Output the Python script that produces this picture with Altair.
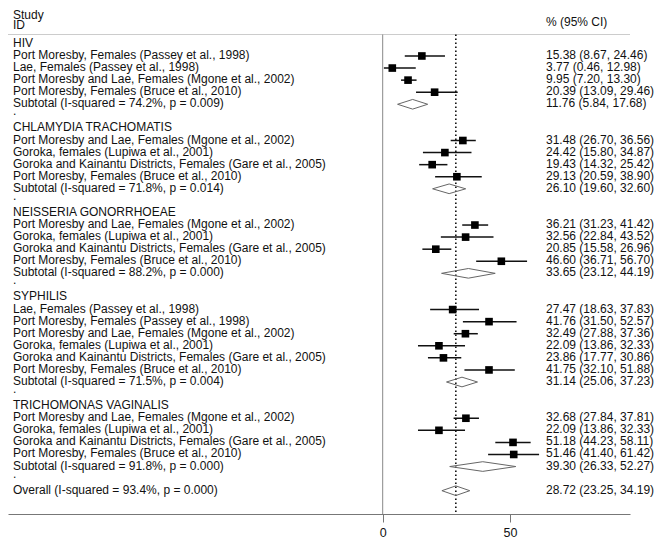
import altair as alt
import pandas as pd

# ---------------- data ----------------
group_names = ["HIV", "CHLAMYDIA TRACHOMATIS", "NEISSERIA GONORRHOEAE",
               "SYPHILIS", "TRICHOMONAS VAGINALIS"]

hiv_labels = ["Port Moresby, Females (Passey et al., 1998)",
              "Lae, Females (Passey et al., 1998)",
              "Port Moresby and Lae, Females (Mgone et al., 2002)",
              "Port Moresby, Females (Bruce et al., 2010)"]
hiv_est = [15.38, 3.77, 9.95, 20.39]
hiv_lo = [8.67, 0.46, 7.20, 13.09]
hiv_hi = [24.46, 12.98, 13.30, 29.46]

ct_labels = ["Port Moresby and Lae, Females (Mgone et al., 2002)",
             "Goroka, females  (Lupiwa et al., 2001)",
             "Goroka and Kainantu Districts, Females (Gare et al., 2005)",
             "Port Moresby, Females (Bruce et al., 2010)"]
ct_est = [31.48, 24.42, 19.43, 29.13]
ct_lo = [26.70, 15.80, 14.32, 20.59]
ct_hi = [36.56, 34.87, 25.42, 38.90]

ng_labels = ["Port Moresby and Lae, Females (Mgone et al., 2002)",
             "Goroka, females  (Lupiwa et al., 2001)",
             "Goroka and Kainantu Districts, Females (Gare et al., 2005)",
             "Port Moresby, Females (Bruce et al., 2010)"]
ng_est = [36.21, 32.56, 20.85, 46.60]
ng_lo = [31.23, 22.84, 15.58, 36.71]
ng_hi = [41.42, 43.52, 26.96, 56.70]

sy_labels = ["Lae, Females (Passey et al., 1998)",
             "Port Moresby, Females (Passey et al., 1998)",
             "Port Moresby and Lae, Females (Mgone et al., 2002)",
             "Goroka, females  (Lupiwa et al., 2001)",
             "Goroka and Kainantu Districts, Females (Gare et al., 2005)",
             "Port Moresby, Females (Bruce et al., 2010)"]
sy_est = [27.47, 41.76, 32.49, 22.09, 23.86, 41.75]
sy_lo = [18.63, 31.50, 27.88, 13.86, 17.77, 32.10]
sy_hi = [37.83, 52.57, 37.36, 32.33, 30.86, 51.88]

tv_labels = ["Port Moresby and Lae, Females (Mgone et al., 2002)",
             "Goroka, females  (Lupiwa et al., 2001)",
             "Goroka and Kainantu Districts, Females (Gare et al., 2005)",
             "Port Moresby, Females (Bruce et al., 2010)"]
tv_est = [32.68, 22.09, 51.18, 51.46]
tv_lo = [27.84, 13.86, 44.23, 41.40]
tv_hi = [37.81, 32.33, 58.11, 61.42]

subtotal_labels = ["Subtotal  (I-squared = 74.2%, p = 0.009)",
                   "Subtotal  (I-squared = 71.8%, p = 0.014)",
                   "Subtotal  (I-squared = 88.2%, p = 0.000)",
                   "Subtotal  (I-squared = 71.5%, p = 0.004)",
                   "Subtotal  (I-squared = 91.8%, p = 0.000)"]
subtotal_est = [11.76, 26.10, 33.65, 31.14, 39.30]
subtotal_lo = [5.84, 19.60, 23.12, 25.06, 26.33]
subtotal_hi = [17.68, 32.60, 44.19, 37.23, 52.27]

overall_label = "Overall  (I-squared = 93.4%, p = 0.000)"
overall_est, overall_lo, overall_hi = 28.72, 23.25, 34.19

axis_ticks = [0, 50]

# ---------------- build table ----------------
studies = [
    (hiv_labels, hiv_est, hiv_lo, hiv_hi),
    (ct_labels, ct_est, ct_lo, ct_hi),
    (ng_labels, ng_est, ng_lo, ng_hi),
    (sy_labels, sy_est, sy_lo, sy_hi),
    (tv_labels, tv_est, tv_lo, tv_hi),
]

recs = []
r = 0
for g, (labs, es, los, his) in enumerate(studies):
    recs.append(dict(row=r, label=group_names[g], kind="header"))
    r += 1
    for lab, e, lo, hi in zip(labs, es, los, his):
        recs.append(dict(row=r, label=lab, kind="study", est=e, lo=lo, hi=hi))
        r += 1
    recs.append(dict(row=r, label=subtotal_labels[g], kind="pooled",
                     est=subtotal_est[g], lo=subtotal_lo[g], hi=subtotal_hi[g]))
    r += 1
    recs.append(dict(row=r, label=".", kind="blank"))
    r += 1
recs.append(dict(row=r, label=overall_label, kind="pooled",
                 est=overall_est, lo=overall_lo, hi=overall_hi))

df = pd.DataFrame(recs)
df["ci"] = df.apply(
    lambda d: f"{d.est:.2f} ({d.lo:.2f}, {d.hi:.2f})" if d.kind in ("study", "pooled") else "",
    axis=1)

study_df = df[df.kind == "study"]
pooled_df = df[df.kind == "pooled"]
text_df = df[df.kind != "blank"]
dot_df = df[df.kind == "blank"]
ci_df = df[df.kind.isin(["study", "pooled"])]

H_HALF = 0.4
dia = []
for i, d in enumerate(pooled_df.itertuples()):
    pts = [(d.lo, d.row), (d.est, d.row - H_HALF), (d.hi, d.row),
           (d.est, d.row + H_HALF), (d.lo, d.row)]
    for k, (xx, yy) in enumerate(pts):
        dia.append(dict(key=i, k=k, x=xx, y=yy))
dia_df = pd.DataFrame(dia)

# ---------------- chart ----------------
W, H = 622, 506
FONT = "Liberation Sans"
xscale = alt.Scale(domain=[-147.17, 97.13], nice=False, zero=False)
yscale = alt.Scale(domain=[-2.973, 38.93], nice=False, zero=False, reverse=True)

x_axis = alt.Axis(values=axis_ticks, grid=False, tickSize=8, labelPadding=4,
                  domainColor="#777", tickColor="#777", labelColor="#111",
                  labelFont=FONT, labelFontSize=12.5, domainWidth=1, title=None)

ci_lines = alt.Chart(study_df).mark_rule(color="#111", strokeWidth=1.5).encode(
    x=alt.X("lo:Q", scale=xscale, axis=x_axis),
    x2="hi:Q",
    y=alt.Y("row:Q", scale=yscale, axis=None),
)

squares = alt.Chart(study_df).mark_square(size=58, color="#000", opacity=1).encode(
    x=alt.X("est:Q", scale=xscale, axis=x_axis),
    y=alt.Y("row:Q", scale=yscale, axis=None),
)

diamonds = alt.Chart(dia_df).mark_line(color="#666", strokeWidth=1).encode(
    x=alt.X("x:Q", scale=xscale, axis=x_axis),
    y=alt.Y("y:Q", scale=yscale, axis=None),
    detail="key:N",
    order="k:Q",
)

zero_line = alt.Chart(pd.DataFrame({"v": [0]})).mark_rule(color="#888", strokeWidth=1).encode(
    x=alt.X("v:Q", scale=xscale, axis=x_axis),
    y=alt.value(26.5), y2=alt.value(H),
)

dotted = alt.Chart(pooled_df.tail(1)).mark_rule(color="#111", strokeWidth=1.6,
                                                 strokeDash=[1.4, 2.6]).encode(
    x=alt.X("est:Q", scale=xscale, axis=x_axis),
    y=alt.value(26.5), y2=alt.value(H),
)

top_line = alt.Chart(pd.DataFrame({"v": [0]})).mark_rule(color="#ccc", strokeWidth=1).encode(
    x=alt.value(0), x2=alt.value(W), y=alt.value(26.5),
)

LFS = 12.0
RFS = 12.0
left_text = alt.Chart(text_df).mark_text(align="left", baseline="middle", font=FONT,
                                          fontSize=LFS, color="#111", dy=-1).encode(
    x=alt.value(5),
    y=alt.Y("row:Q", scale=yscale, axis=None),
    text="label:N",
)

dots = alt.Chart(dot_df).mark_text(align="left", baseline="middle", font=FONT,
                                    fontSize=LFS, color="#111", dy=-5).encode(
    x=alt.value(5),
    y=alt.Y("row:Q", scale=yscale, axis=None),
    text="label:N",
)

right_text = alt.Chart(ci_df).mark_text(align="left", baseline="middle", font=FONT,
                                         fontSize=RFS, color="#111", dy=-1).encode(
    x=alt.value(538),
    y=alt.Y("row:Q", scale=yscale, axis=None),
    text="ci:N",
)

hdr_study = alt.Chart(pd.DataFrame({"t": ["Study"]})).mark_text(
    align="left", baseline="middle", font=FONT, fontSize=LFS, color="#111").encode(
    x=alt.value(5), y=alt.value(7), text="t:N")
hdr_id = alt.Chart(pd.DataFrame({"t": ["ID"]})).mark_text(
    align="left", baseline="middle", font=FONT, fontSize=LFS, color="#111").encode(
    x=alt.value(5), y=alt.value(17), text="t:N")
hdr_ci = alt.Chart(pd.DataFrame({"t": ["% (95% CI)"]})).mark_text(
    align="left", baseline="middle", font=FONT, fontSize=RFS, color="#111").encode(
    x=alt.value(538), y=alt.value(14), text="t:N")

chart = alt.layer(
    ci_lines, top_line, zero_line, dotted, squares, diamonds,
    left_text, dots, right_text, hdr_study, hdr_id, hdr_ci,
).properties(
    width=W, height=H,
    autosize=alt.AutoSizeParams(type="none"),
    padding={"left": 0, "top": 0, "right": 24, "bottom": 28},
    background="white",
).configure_view(strokeWidth=0, stroke=None)

chart.save("out.html", embed_options={"renderer": "svg", "actions": False})
